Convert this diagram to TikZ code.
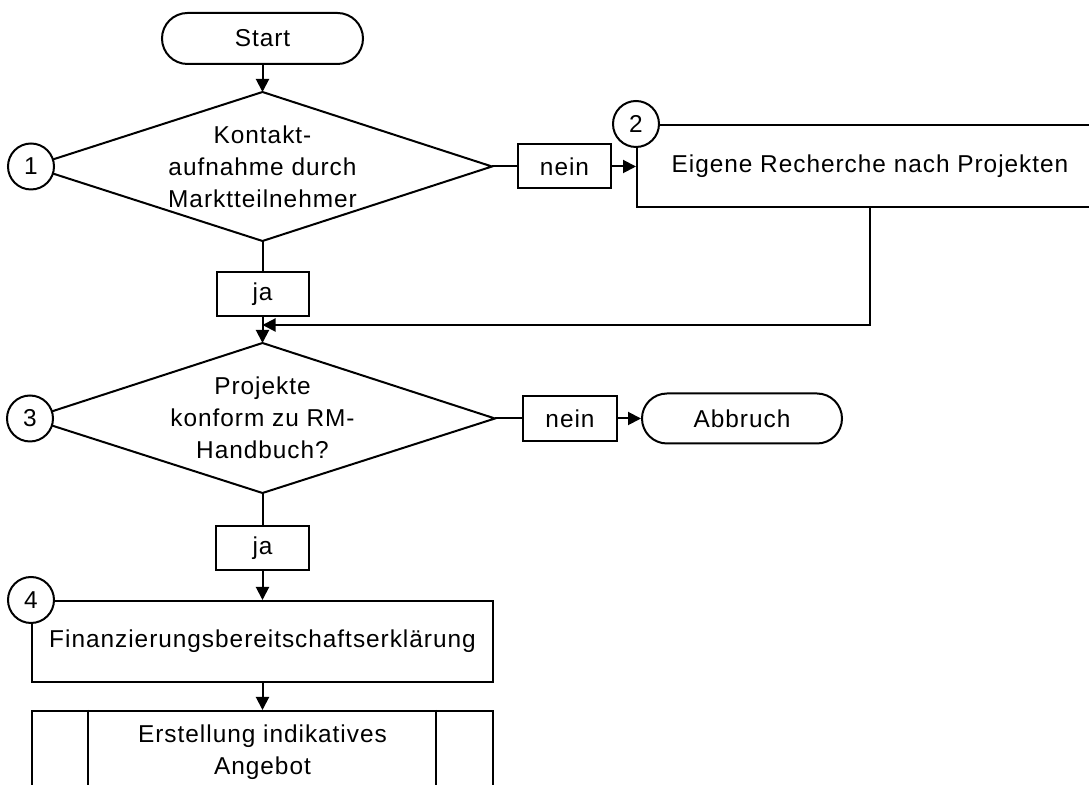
\documentclass[tikz,border=0pt]{standalone}
\usepackage{fontspec}
\setmainfont[LetterSpace=4]{Liberation Sans}
\usetikzlibrary{arrows.meta,calc}
\tikzset{
  base/.style={draw, line width=1pt, inner sep=0pt, align=center, font=\fontsize{12.2}{16}\selectfont, fill=white},
  term/.style={base, rectangle},
  proc/.style={base, rectangle},
  dectext/.style={inner sep=0pt, align=center, font=\fontsize{12.2}{16}\selectfont},
  lab/.style={base, rectangle},
  num/.style={base, circle, minimum size=23pt},
  conn/.style={line width=1pt},
  arr/.style={line width=1pt, -{Triangle[length=6.5pt,width=6.5pt]}}
}
\begin{document}
\begin{tikzpicture}[x=0.5pt,y=-0.5pt]
\useasboundingbox (0,0) rectangle (1089,785);
\clip (0,0) rectangle (1089,785);
\fill[white] (0,0) rectangle (1089,785);
% decision 1
\coordinate (d1n) at (262.5,92);
\coordinate (d1e) at (492,166.5);
\coordinate (d1s) at (262.5,241);
\coordinate (d1w) at (31,166.5);
\draw[conn, line join=miter] (d1n) -- (d1e) -- (d1s) -- (d1w) -- cycle;
\node[dectext] (d1) at (262.5,166.5) {Kontakt-\\aufnahme durch\\Marktteilnehmer};
% decision 3
\coordinate (d3n) at (262.5,343);
\coordinate (d3e) at (495,418.5);
\coordinate (d3s) at (262.5,493);
\coordinate (d3w) at (30,418.5);
\draw[conn, line join=miter] (d3n) -- (d3e) -- (d3s) -- (d3w) -- cycle;
\node[dectext] (d3) at (262.5,418) {Projekte\\konform zu RM-\\Handbuch?};
% nodes
\node[term, minimum width=100.5pt, minimum height=25.5pt, rounded corners=12.75pt] (start) at (262.5,38.5) {Start};
\node[lab, minimum width=46.5pt, minimum height=22pt] (n1) at (564.5,166.5) {nein};
\node[proc, minimum width=233pt, minimum height=41pt] (b2) at (870,166) {Eigene Recherche nach Projekten};
\node[lab, minimum width=46pt, minimum height=22pt] (ja1) at (262.5,294) {ja};
\node[lab, minimum width=47pt, minimum height=22.5pt] (n2) at (570,418.5) {nein};
\node[term, minimum width=100pt, minimum height=25pt, rounded corners=12.5pt] (ab) at (742,418.5) {Abbruch};
\node[lab, minimum width=46.5pt, minimum height=22pt] (ja2) at (262.5,548) {ja};
\node[proc, minimum width=230.5pt, minimum height=40.5pt] (b4) at (262.5,641.5) {Finanzierungsbereitschaftserklärung};
\node[proc, minimum width=230.5pt, minimum height=41.5pt] (b5) at (262.5,752.5) {Erstellung indikatives\\Angebot};
\draw[conn] ($(b5.north west)+(57,0)$) -- ($(b5.south west)+(57,0)$);
\draw[conn] ($(b5.north east)+(-58,0)$) -- ($(b5.south east)+(-58,0)$);
% number circles
\node[num] (c1) at (d1w) {1};
\node[num] (c2) at (b2.north west) {2};
\node[num] (c3) at (d3w) {3};
\node[num] (c4) at (b4.north west) {4};
% connectors
\coordinate (m) at (262.5,325);
\draw[arr] (start.south) -- (d1n);
\draw[conn] (d1e) -- (n1.west);
\draw[arr] (n1.east) -- (n1.east -| b2.west);
\draw[conn] (d1s) -- (ja1.north);
\draw[arr] (ja1.south) -- (d3n);
\draw[arr] (b2.south) |- (m);
\draw[conn] (d3e) -- (n2.west);
\draw[arr] (n2.east) -- (ab.west);
\draw[conn] (d3s) -- (ja2.north);
\draw[arr] (ja2.south) -- (b4.north);
\draw[arr] (b4.south) -- (b5.north);
\end{tikzpicture}
\end{document}
